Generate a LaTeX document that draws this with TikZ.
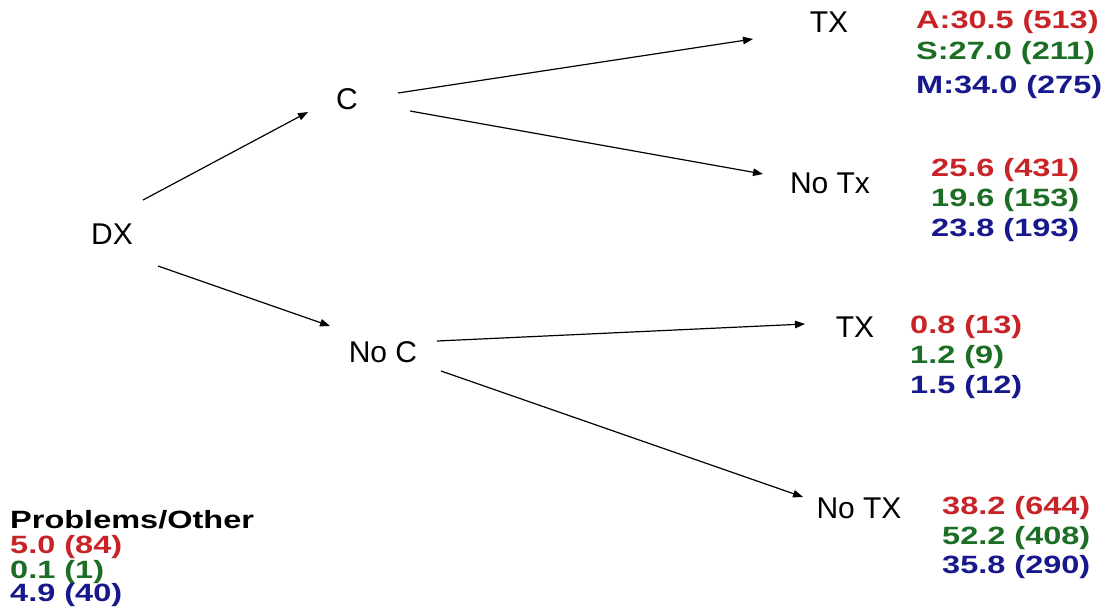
\documentclass[tikz,border=0pt]{standalone}
\usepackage{fontspec}
\setmainfont{Liberation Sans}
\newfontfamily\numfont[FakeStretch=1.3]{Liberation Sans}
\usetikzlibrary{arrows.meta}
\definecolor{nred}{RGB}{200,36,40}
\definecolor{ngreen}{RGB}{28,110,36}
\definecolor{nblue}{RGB}{22,24,140}
\begin{document}
\begin{tikzpicture}[x=1pt,y=-1pt,
  lab/.style={inner sep=0pt,font=\fontsize{30}{30}\selectfont},
  num/.style={inner sep=0pt,anchor=west,font=\numfont\bfseries\fontsize{25}{25}\selectfont},
  arr/.style={line width=1.2pt,-{Triangle[length=10pt,width=7.5pt]}}]
\useasboundingbox[fill=white] (0,0) rectangle (1102,608);
\node[lab] (dx) at (112,234) {DX};
\node[lab] (c) at (347,99) {C};
\node[lab] (noc) at (383,352) {No C};
\node[lab] (tx1) at (829,22) {TX};
\node[lab] (notx1) at (830,183) {No Tx};
\node[lab] (tx2) at (855,327) {TX};
\node[lab] (notx2) at (859,508) {No TX};
% group 1
\node[num,text=nred] (a1) at (916,22) {A:30.5 (513)};
\node[num,text=ngreen] (s1) at (916,53) {S:27.0 (211)};
\node[num,text=nblue] (m1) at (916,87) {M:34.0 (275)};
% group 2
\node[num,text=nred] (a2) at (931,170) {25.6 (431)};
\node[num,text=ngreen] (s2) at (931,200) {19.6 (153)};
\node[num,text=nblue] (m2) at (931,230) {23.8 (193)};
% group 3
\node[num,text=nred] (a3) at (910,327) {0.8 (13)};
\node[num,text=ngreen] (s3) at (910,357) {1.2 (9)};
\node[num,text=nblue] (m3) at (910,387) {1.5 (12)};
% group 4
\node[num,text=nred] (a4) at (942,508) {38.2 (644)};
\node[num,text=ngreen] (s4) at (942,538) {52.2 (408)};
\node[num,text=nblue] (m4) at (942,567) {35.8 (290)};
% problems
\node[num] (po) at (10,520) {Problems/Other};
\node[num,text=nred] (a5) at (10,547) {5.0 (84)};
\node[num,text=ngreen] (s5) at (10,572) {0.1 (1)};
\node[num,text=nblue] (m5) at (10,595) {4.9 (40)};
% arrows
\draw[arr] ([shift={(31,-34)}]dx.center) -- ([shift={(-39,13)}]c.center);
\draw[arr] ([shift={(46,32)}]dx.center) -- ([shift={(-53,-26)}]noc.center);
\draw[arr] ([shift={(51,-6)}]c.center) -- ([shift={(-76,17)}]tx1.center);
\draw[arr] ([shift={(63,12)}]c.center) -- ([shift={(-67,-9)}]notx1.center);
\draw[arr] ([shift={(54,-11)}]noc.center) -- ([shift={(-50,-3)}]tx2.center);
\draw[arr] ([shift={(58,19)}]noc.center) -- ([shift={(-56,-11)}]notx2.center);
\end{tikzpicture}
\end{document}
